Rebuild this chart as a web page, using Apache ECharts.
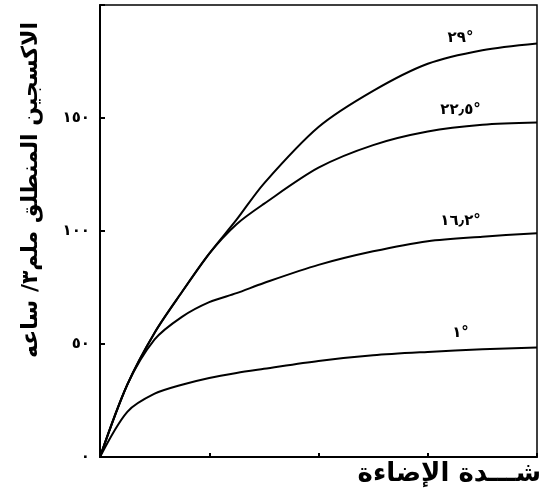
<!DOCTYPE html>
<html>
<head>
<meta charset="utf-8">
<script src="https://cdn.jsdelivr.net/npm/echarts@6/dist/echarts.min.js"></script>
<style>
  html, body { margin: 0; padding: 0; background: #fff; }
  #chart { width: 541px; height: 493px; }
</style>
</head>
<body>
<div id="chart"></div>
<script>
// Light intensity (relative units) shared by all curves
const intensity = [0, 0.25, 0.5, 0.75, 1, 1.25, 1.5, 2, 2.5, 3, 3.5, 4];

// Oxygen evolved (mm3 / hour) at each temperature
const oxygen29  = [0, 32, 55, 73, 90, 105, 121, 146, 162, 174, 180, 183];
const oxygen225 = [0, 32, 55, 73, 90, 103, 112, 128, 138, 144, 147, 148];
const oxygen162 = [0, 32, 52, 62, 68.5, 72.5, 77, 85, 91, 95.5, 97.5, 99];
const oxygen1   = [0, 20, 28, 32, 35, 37.2, 39, 42.5, 45, 46.5, 47.7, 48.4];

// Curve captions and where along the intensity axis they sit
const curveNames = ['٢٩°', '٢٢٫٥°', '١٦٫٢°', '١°'];
const captionAt = 3.3;

const yTicks = [0, 50, 100, 150];
const arabicDigits = ['٠','١','٢','٣','٤','٥','٦','٧','٨','٩'];
const toArabic = n => String(n).replace(/[0-9]/g, d => arabicDigits[+d]);

const yTitle = 'الاكسجين المنطلق ملم٣/ ساعه';
const xTitle = 'شـــدة الإضاءة';

const font = '"DejaVu Sans", sans-serif';

function valueAt(xs, ys, x) {
  for (let i = 1; i < xs.length; i++) {
    if (x <= xs[i]) {
      const t = (x - xs[i - 1]) / (xs[i] - xs[i - 1]);
      return ys[i - 1] + t * (ys[i] - ys[i - 1]);
    }
  }
  return ys[ys.length - 1];
}

function curve(values, name) {
  return {
    type: 'line',
    name: name,
    data: intensity.map((x, i) => [x, values[i]]),
    smooth: 0.3,
    showSymbol: false,
    lineStyle: { color: '#000', width: 2 },
    silent: true,
    markPoint: {
      symbol: 'circle',
      symbolSize: 0,
      data: [{ coord: [captionAt, valueAt(intensity, values, captionAt)], value: name }],
      label: {
        show: true,
        position: 'top',
        distance: 10,
        formatter: name,
        color: '#000',
        fontFamily: font,
        fontSize: 15,
        fontWeight: 'bold'
      }
    }
  };
}

const chart = echarts.init(document.getElementById('chart'), null, { renderer: 'canvas' });
chart.setOption({
  animation: false,
  backgroundColor: '#fff',
  grid: {
    left: 100, right: 4, top: 5, bottom: 36,
    show: true, borderColor: '#000', borderWidth: 1.5
  },
  xAxis: {
    type: 'value', min: 0, max: 4, interval: 1,
    axisLine: { lineStyle: { color: '#000', width: 2 } },
    axisTick: { inside: true, length: 4, lineStyle: { color: '#000', width: 2 } },
    axisLabel: { show: false },
    splitLine: { show: false }
  },
  yAxis: {
    type: 'value', min: 0, max: 200, interval: 50,
    axisLine: { show: true, lineStyle: { color: '#000', width: 2 } },
    axisTick: { show: true, inside: true, length: 5, lineStyle: { color: '#000', width: 2 } },
    axisLabel: {
      margin: 10,
      color: '#000',
      fontFamily: font,
      fontSize: 15,
      fontWeight: 'bold',
      formatter: v => (yTicks.indexOf(v) >= 0 ? toArabic(v) : '')
    },
    splitLine: { show: false }
  },
  series: [
    curve(oxygen29, curveNames[0]),
    curve(oxygen225, curveNames[1]),
    curve(oxygen162, curveNames[2]),
    curve(oxygen1, curveNames[3])
  ],
  graphic: [
    {
      type: 'text',
      x: 31, y: 190,
      rotation: Math.PI / 2,
      style: {
        text: yTitle,
        fill: '#000',
        font: 'bold 22px "DejaVu Sans", sans-serif',
        align: 'center',
        verticalAlign: 'middle'
      }
    },
    {
      type: 'text',
      x: 541, y: 474,
      style: {
        text: xTitle,
        fill: '#000',
        font: 'bold 26px "DejaVu Sans", sans-serif',
        align: 'right',
        verticalAlign: 'middle'
      }
    }
  ]
});
</script>
</body>
</html>
